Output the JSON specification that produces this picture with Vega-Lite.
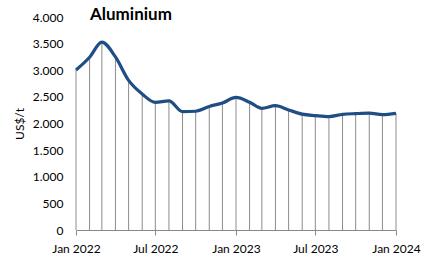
{
  "$schema": "https://vega.github.io/schema/vega-lite/v6.json",
  "autosize": "none",
  "width": 320,
  "height": 213,
  "padding": {"left": 76, "top": 17, "right": 34, "bottom": 32},
  "background": "white",
  "config": {
    "view": {"stroke": null},
    "font": "Lato",
    "axis": {"labelFont": "Lato", "titleFont": "Lato", "labelFontSize": 12, "titleFontSize": 12, "labelColor": "#000", "titleColor": "#000", "titleFontWeight": "normal", "grid": false}
  },
  "title": {"text": "Aluminium", "anchor": "start", "frame": "group", "dx": 14, "fontSize": 17, "fontWeight": "bold", "font": "Lato", "baseline": "alphabetic", "offset": -26, "color": "#000"},
  "data": {"values": [
    {"date": "2022-01-01", "value": 3005},
    {"date": "2022-02-01", "value": 3245},
    {"date": "2022-03-01", "value": 3530},
    {"date": "2022-04-01", "value": 3250},
    {"date": "2022-05-01", "value": 2810},
    {"date": "2022-06-01", "value": 2555},
    {"date": "2022-07-01", "value": 2395},
    {"date": "2022-08-01", "value": 2425},
    {"date": "2022-09-01", "value": 2222},
    {"date": "2022-10-01", "value": 2230},
    {"date": "2022-11-01", "value": 2320},
    {"date": "2022-12-01", "value": 2385},
    {"date": "2023-01-01", "value": 2490},
    {"date": "2023-02-01", "value": 2400},
    {"date": "2023-03-01", "value": 2285},
    {"date": "2023-04-01", "value": 2335},
    {"date": "2023-05-01", "value": 2255},
    {"date": "2023-06-01", "value": 2175},
    {"date": "2023-07-01", "value": 2148},
    {"date": "2023-08-01", "value": 2130},
    {"date": "2023-09-01", "value": 2172},
    {"date": "2023-10-01", "value": 2186},
    {"date": "2023-11-01", "value": 2195},
    {"date": "2023-12-01", "value": 2165},
    {"date": "2024-01-01", "value": 2190}
  ]},
  "encoding": {
    "x": {
      "field": "date", "type": "temporal",
      "scale": {"type": "utc", "domain": [{"year": 2022, "month": 1, "date": 1, "utc": true}, {"year": 2024, "month": 1, "date": 1, "utc": true}]},
      "axis": {
        "title": null,
        "values": [{"year": 2022, "month": 1, "date": 1, "utc": true}, {"year": 2022, "month": 7, "date": 1, "utc": true}, {"year": 2023, "month": 1, "date": 1, "utc": true}, {"year": 2023, "month": 7, "date": 1, "utc": true}, {"year": 2024, "month": 1, "date": 1, "utc": true}],
        "labelExpr": "utcFormat(datum.value, '%b %Y')",
        "domainColor": "#888", "tickColor": "#888", "tickSize": 5, "labelPadding": 8,
        "labelFlush": false
      }
    },
    "y": {
      "field": "value", "type": "quantitative",
      "scale": {"domain": [0, 4000], "nice": false},
      "axis": {
        "title": "US$/t", "values": [0, 500, 1000, 1500, 2000, 2500, 3000, 3500, 4000],
        "labelExpr": "replace(format(datum.value, ','), ',', '.')",
        "domain": false, "ticks": false, "labelPadding": 13, "titlePadding": 6
      }
    }
  },
  "layer": [
    {
      "mark": {"type": "rule", "color": "#8c8c8c", "strokeWidth": 1},
      "encoding": {
        "y2": {"datum": 0}
      }
    },
    {
      "mark": {"type": "line", "color": "#1f4e84", "strokeWidth": 3.2, "interpolate": "monotone"},
      "encoding": {}
    }
  ]
}
